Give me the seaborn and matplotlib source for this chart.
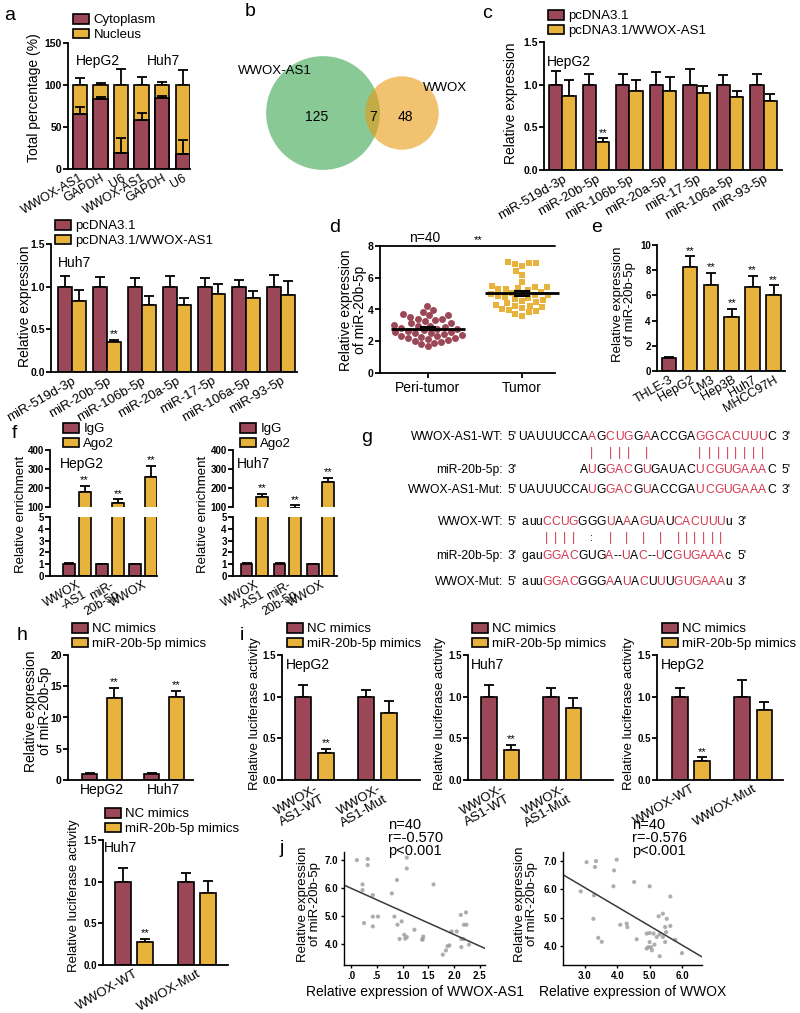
import numpy as np
import pandas as pd
import matplotlib
matplotlib.use("Agg")
import matplotlib.pyplot as plt
from matplotlib.patches import Circle
from matplotlib.font_manager import FontProperties
import seaborn as sns

sns.set_style("ticks")
plt.rcParams['font.family'] = ['Liberation Sans', 'DejaVu Sans']
plt.rcParams['axes.edgecolor'] = 'black'
plt.rcParams['axes.linewidth'] = 1.3
plt.rcParams['xtick.color'] = 'black'
plt.rcParams['ytick.color'] = 'black'
plt.rcParams['text.color'] = 'black'
plt.rcParams['axes.labelcolor'] = 'black'

MAROON = '#9b4757'
YELLOW = '#e8b33c'
RED = '#d4384f'

# ---------------- data ----------------
# a: subcellular fractionation
frac_keys = ['HepG2 WWOX-AS1', 'HepG2 GAPDH', 'HepG2 U6', 'Huh7 WWOX-AS1', 'Huh7 GAPDH', 'Huh7 U6']
frac_ticks = ['WWOX-AS1', 'GAPDH', 'U6', 'WWOX-AS1', 'GAPDH', 'U6']
cyto_pct = [66, 83, 19, 58, 84, 18]
cyto_err = [8, 3, 18, 9, 3, 17]
nuc_pct = [34, 17, 81, 42, 16, 82]
nuc_err = [8, 2, 19, 9, 3, 18]

# b: venn (only WWOX-AS1, shared, only WWOX)
venn_names = ['WWOX-AS1', 'WWOX']
venn_counts = [125, 7, 48]

# c: candidate miRNAs
mirs = ['miR-519d-3p', 'miR-20b-5p', 'miR-106b-5p', 'miR-20a-5p', 'miR-17-5p', 'miR-106a-5p', 'miR-93-5p']
oe_names = ['pcDNA3.1', 'pcDNA3.1/WWOX-AS1']
hep_ctrl = [1.0, 1.0, 1.0, 1.0, 1.0, 1.0, 1.0]
hep_ctrl_err = [0.16, 0.12, 0.12, 0.15, 0.18, 0.11, 0.12]
hep_oe = [0.87, 0.33, 0.92, 0.93, 0.90, 0.86, 0.81]
hep_oe_err = [0.19, 0.04, 0.14, 0.16, 0.08, 0.07, 0.08]
huh_ctrl = [1.0, 1.0, 1.0, 1.0, 1.0, 1.0, 1.0]
huh_ctrl_err = [0.12, 0.11, 0.10, 0.13, 0.10, 0.08, 0.14]
huh_oe = [0.83, 0.35, 0.78, 0.79, 0.91, 0.87, 0.90]
huh_oe_err = [0.13, 0.03, 0.11, 0.08, 0.12, 0.08, 0.17]

# d: tissue expression (n=40 each)
tissue_groups = ['Peri-tumor', 'Tumor']
peri_expr = [4.23, 3.98, 3.86, 3.72, 3.66, 3.63, 3.55, 3.41, 3.38, 3.31, 3.27, 3.15, 3.12, 3.04,
             2.98, 2.93, 2.87, 2.84, 2.79, 2.76, 2.72, 2.66, 2.61, 2.58, 2.53, 2.49, 2.44, 2.41,
             2.36, 2.31, 2.27, 2.22, 2.18, 2.13, 2.09, 2.02, 1.96, 1.91, 1.83, 1.68]
tumor_expr = [7.02, 6.95, 6.91, 6.86, 6.72, 6.40, 6.20, 5.75, 5.40, 5.30, 5.00, 4.90, 5.51, 5.43,
              5.35, 5.28, 5.20, 5.12, 5.05, 4.98, 4.92, 4.86, 4.80, 4.73, 4.66, 4.60, 4.52, 4.45,
              4.38, 4.31, 4.25, 4.20, 4.14, 4.08, 4.02, 3.96, 3.90, 3.82, 3.71, 3.62]

# e: cell lines
cell_lines = ['THLE-3', 'HepG2', 'LM3', 'Hep3B', 'Huh7', 'MHCC97H']
cell_expr = [1.0, 8.25, 6.85, 4.3, 6.7, 6.05]
cell_err = [0.1, 0.85, 0.95, 0.6, 0.85, 0.75]

# f: RIP
rip_targets = ['WWOX\n-AS1', 'miR-\n20b-5p', 'WWOX']
rip_names = ['IgG', 'Ago2']
hep_igg = [1.0, 1.0, 1.0]
hep_igg_err = [0.06, 0.05, 0.05]
hep_ago = [180, 122, 260]
hep_ago_err = [30, 18, 55]
huh_igg = [1.0, 1.0, 1.0]
huh_igg_err = [0.06, 0.12, 0.04]
huh_ago = [152, 95, 232]
huh_ago_err = [18, 13, 22]

# g: binding sequences
as1_wt = "UAUUUCCAAGCUGGAACCGAGGCACUUUC"
as1_mir = "AUGGACGUGAUACUCGUGAAAC"
as1_mir_start = 7
as1_mut = "UAUUUCCAUGGACGUACCGAUCGUGAAAC"
as1_pairs = [8, 10, 11, 12, 14, 20, 21, 22, 23, 24, 25, 26, 27]
wwox_wt = "auuCCUGGGGUAAAGUAUCACUUUu"
wwox_mir = "gauGGACGUGA--UAC--UCGUGAAAc"
wwox_mut = "auuGGACGGGAAUACUUUGUGAAAu"
wwox_pairs = [3, 4, 5, 6, 10, 12, 14, 16, 18, 19, 20, 21, 22, 23]
wwox_wobble = [8]
wwox_mir_red = [3, 4, 5, 6, 10, 13, 15, 18, 20, 21, 22, 23, 24, 25]

# h: mimics
mimic_names = ['NC mimics', 'miR-20b-5p mimics']
h_cells = ['HepG2', 'Huh7']
h_nc = [1.0, 1.0]
h_nc_err = [0.05, 0.05]
h_mim = [13.1, 13.2]
h_mim_err = [1.6, 1.0]

# i: luciferase
as1_reporters = ['WWOX-\nAS1-WT', 'WWOX-\nAS1-Mut']
wwox_reporters = ['WWOX-WT', 'WWOX-Mut']
luc_nc = [1.0, 1.0]
i1_nc_err, i1_mim, i1_mim_err = [0.14, 0.08], [0.32, 0.80], [0.05, 0.15]
i2_nc_err, i2_mim, i2_mim_err = [0.14, 0.10], [0.36, 0.86], [0.06, 0.12]
i3_nc_err, i3_mim, i3_mim_err = [0.10, 0.20], [0.23, 0.84], [0.04, 0.10]
i4_nc_err, i4_mim, i4_mim_err = [0.17, 0.10], [0.28, 0.87], [0.03, 0.14]

# j: correlations
as1_x = [0.11, 0.32, 0.32, 0.22, 0.22, 0.42, 0.25, 0.42, 0.42, 0.52, 0.79, 0.89, 0.84, 0.90,
         0.98, 0.94, 1.08, 1.08, 1.03, 1.08, 1.05, 1.23, 1.39, 1.40, 1.60, 1.95, 2.05, 1.78,
         1.84, 1.87, 1.91, 2.13, 2.23, 2.14, 2.18, 2.19, 2.24, 2.29, 2.14, 1.38]
as1_y = [7.00, 7.04, 6.82, 6.13, 5.93, 5.75, 4.75, 4.98, 4.63, 4.98, 5.81, 6.29, 4.98, 4.69,
         4.81, 4.18, 7.09, 6.70, 4.33, 4.25, 4.19, 4.51, 4.18, 4.27, 6.13, 4.45, 4.45, 3.62,
         3.77, 3.92, 3.95, 5.04, 5.13, 3.89, 4.18, 4.69, 4.69, 3.98, 4.18, 4.15]
wwox_x = [2.87, 3.05, 3.34, 3.31, 3.28, 3.26, 3.41, 3.52, 3.98, 3.90, 3.88, 4.09, 4.29, 4.31,
          4.52, 4.60, 5.00, 5.00, 4.91, 5.12, 5.00, 4.96, 5.04, 5.07, 4.91, 5.28, 5.41, 5.31,
          5.31, 5.53, 5.48, 5.51, 5.48, 5.64, 5.64, 5.79, 6.00, 5.41, 5.22, 5.15]
wwox_y = [5.93, 6.96, 7.00, 6.79, 5.79, 4.96, 4.29, 4.15, 7.05, 6.67, 6.11, 4.75, 4.79, 4.67,
          6.26, 4.24, 6.11, 4.46, 4.44, 4.44, 4.14, 3.96, 3.96, 3.85, 3.91, 5.05, 5.14, 4.41,
          3.64, 4.96, 4.67, 4.49, 4.14, 4.71, 5.75, 4.22, 3.75, 4.32, 4.32, 4.05]

# ---------------- helpers ----------------
W, H = 800, 1013
fig = plt.figure(figsize=(8, 10.13), dpi=100)


def px_ax(l, t, r, b):
    return fig.add_axes([l / W, 1 - b / H, (r - l) / W, (b - t) / H])


def ftext(x, y, s, **kw):
    return fig.text(x / W, 1 - y / H, s, **kw)


def style(ax, ylim, yticks, ylabels=None, xlim=None, ysize=7.5):
    sns.despine(ax=ax)
    ax.set_ylim(*ylim)
    ax.set_yticks(yticks)
    if ylabels is not None:
        ax.set_yticklabels(ylabels)
    if xlim is not None:
        ax.set_xlim(*xlim)
    ax.tick_params(axis='y', labelsize=ysize, length=3.5, width=1.3, pad=1)
    for lab in ax.get_yticklabels():
        lab.set_fontweight('bold')
    ax.tick_params(axis='x', length=0, labelsize=9.5, pad=2)
    ax.set_xlabel('')
    ax.set_ylabel('')


def xlabels(ax, labels, rot=30, size=9.5):
    ax.set_xticks(range(len(labels)))
    if rot:
        ax.set_xticklabels(labels, rotation=rot, ha='right', rotation_mode='anchor',
                           fontsize=size, linespacing=0.95)
    else:
        ax.set_xticklabels(labels, fontsize=size)


def ylab(ax, text, x, y, size=10):
    ax.set_ylabel(text, fontsize=size, va='center', ha='center', linespacing=1.0)
    bb = ax.get_position()
    ax.yaxis.set_label_coords((x / W - bb.x0) / bb.width, ((1 - y / H) - bb.y0) / bb.height)


def legend(ax, handles, labels, x, y):
    ax.legend(handles=handles, labels=labels, loc='upper left',
              bbox_to_anchor=(x / W, 1 - y / H), bbox_transform=fig.transFigure,
              frameon=False, fontsize=9.5, handlelength=1.25, handleheight=0.75,
              handletextpad=0.3, labelspacing=0.18, borderpad=0, borderaxespad=0)


def grouped(ax, cats, series, errs, names, width, gap):
    df = pd.DataFrame({'cat': list(cats) * len(series),
                       'grp': [nm for nm in names for _ in cats],
                       'val': [v for s in series for v in s]})
    sns.barplot(data=df, x='cat', y='val', hue='grp', order=list(cats), hue_order=list(names),
                palette=[MAROON, YELLOW], saturation=1, width=width, gap=gap,
                edgecolor='black', linewidth=1.2, errorbar=None, legend=False, ax=ax)
    bars = list(ax.containers)
    tops = []
    for cont, vals, err in zip(bars, series, errs):
        xs = [p.get_x() + p.get_width() / 2 for p in cont]
        ax.errorbar(xs, vals, yerr=[np.zeros(len(vals)), err], fmt='none', ecolor='black',
                    elinewidth=1.3, capsize=3.5, capthick=1.3, zorder=0.5)
        tops.append((xs, np.add(vals, err)))
    return bars, tops


def stars(ax, tops, which):
    for g, i in which:
        xs, ts = tops[g]
        ax.annotate('**', (xs[i], ts[i]), xytext=(0, 0.5), textcoords='offset points',
                    ha='center', va='bottom', fontsize=8, annotation_clip=False)


# ---------------- a ----------------
ax = px_ax(68, 43, 190, 169)
a_df = pd.DataFrame({'key': frac_keys, 'cyto': cyto_pct, 'nuc': nuc_pct})
a_df['total'] = a_df['cyto'] + a_df['nuc']
sns.barplot(data=a_df, x='key', y='total', color=YELLOW, saturation=1, width=0.7,
            edgecolor='black', linewidth=1.2, errorbar=None, ax=ax)
sns.barplot(data=a_df, x='key', y='cyto', color=MAROON, saturation=1, width=0.7,
            edgecolor='black', linewidth=1.2, errorbar=None, ax=ax)
a_bars = list(ax.containers)
ax.errorbar(range(6), a_df['total'], yerr=[np.zeros(6), nuc_err], fmt='none', ecolor='black',
            elinewidth=1.3, capsize=3.5, capthick=1.3, zorder=0.5)
ax.errorbar(range(6), a_df['cyto'], yerr=[np.zeros(6), cyto_err], fmt='none', ecolor='black',
            elinewidth=1.3, capsize=3.5, capthick=1.3, zorder=2.5)
style(ax, (0, 150), [0, 50, 100, 150], xlim=(-0.58, 5.35))
xlabels(ax, frac_ticks, size=9)
ylab(ax, 'Total percentage (%)', 34, 98)
legend(ax, [a_bars[1], a_bars[0]], ['Cytoplasm', 'Nucleus'], 73, 14)
ftext(98, 61, 'HepG2', ha='center', va='center', fontsize=10)
ftext(163, 61, 'Huh7', ha='center', va='center', fontsize=10)

# ---------------- b ----------------
axb = px_ax(230, 40, 460, 190)
axb.set_xlim(230, 460)
axb.set_ylim(190, 40)
axb.axis('off')
r_as1 = 4.95 * np.sqrt(venn_counts[0] + venn_counts[1])
r_ww = 4.95 * np.sqrt(venn_counts[2] + venn_counts[1])
axb.add_patch(Circle((323, 113), r_as1, facecolor='#88c995', lw=0))
axb.add_patch(Circle((402, 113), r_ww, facecolor='#e89a10', alpha=0.6, lw=0))
axb.text(317, 117, str(venn_counts[0]), ha='center', va='center', fontsize=10)
axb.text(373, 117, str(venn_counts[1]), ha='center', va='center', fontsize=10)
axb.text(405, 117, str(venn_counts[2]), ha='center', va='center', fontsize=10)
axb.text(275, 71, venn_names[0], ha='center', va='center', fontsize=9.5)
axb.text(445, 88, venn_names[1], ha='center', va='center', fontsize=9.5)

# ---------------- c (HepG2) ----------------
ax = px_ax(544, 42, 782, 170)
bars, tops = grouped(ax, mirs, [hep_ctrl, hep_oe], [hep_ctrl_err, hep_oe_err], oe_names, 0.8, 0)
stars(ax, tops, [(1, 1)])
style(ax, (0, 1.5), [0, 0.5, 1.0, 1.5], ['0.0', '0.5', '1.0', '1.5'], xlim=(-0.55, 6.55))
xlabels(ax, mirs)
ylab(ax, 'Relative expression', 511, 103)
legend(ax, bars, oe_names, 548, 10)
ftext(547, 62, 'HepG2', ha='left', va='center', fontsize=10)

# ---------------- c (Huh7) ----------------
ax = px_ax(51, 244, 297, 372)
bars, tops = grouped(ax, mirs, [huh_ctrl, huh_oe], [huh_ctrl_err, huh_oe_err], oe_names, 0.8, 0)
stars(ax, tops, [(1, 1)])
style(ax, (0, 1.5), [0, 0.5, 1.0, 1.5], ['0.0', '0.5', '1.0', '1.5'], xlim=(-0.6, 6.45))
xlabels(ax, mirs)
ylab(ax, 'Relative expression', 25, 306)
legend(ax, bars, oe_names, 55, 220)
ftext(58, 263, 'Huh7', ha='left', va='center', fontsize=10)

# ---------------- d ----------------
ax = px_ax(380, 246, 555, 373)
d_df = pd.DataFrame({'grp': [tissue_groups[0]] * len(peri_expr) + [tissue_groups[1]] * len(tumor_expr),
                     'val': peri_expr + tumor_expr})
sns.swarmplot(data=d_df[d_df.grp == tissue_groups[0]], x='grp', y='val', order=tissue_groups,
              color=MAROON, marker='o', size=5, ax=ax)
sns.swarmplot(data=d_df[d_df.grp == tissue_groups[1]], x='grp', y='val', order=tissue_groups,
              color=YELLOW, marker='s', size=5, ax=ax)
for i, g in enumerate(tissue_groups):
    v = d_df.loc[d_df.grp == g, 'val']
    m, se = v.mean(), v.std() / np.sqrt(len(v))
    ax.hlines(m, i - 0.39, i + 0.39, color='black', lw=2, zorder=5, clip_on=False)
    ax.errorbar(i, m, yerr=se, fmt='none', ecolor='black', elinewidth=1.5, capsize=6,
                capthick=1.5, zorder=5)
style(ax, (0, 8), [0, 2, 4, 6, 8], xlim=(-0.51, 1.35))
ax.tick_params(axis='x', length=3.5, width=1.3, labelsize=10)
ax.axhline(8, color='black', lw=1.3, clip_on=False)
ylab(ax, 'Relative expression\nof miR-20b-5p', 353, 310)
ftext(425, 238, 'n=40', ha='center', va='center', fontsize=10)
ftext(478, 240, '**', ha='center', va='center', fontsize=8)

# ---------------- e ----------------
ax = px_ax(657, 245, 785, 371)
e_df = pd.DataFrame({'line': cell_lines, 'val': cell_expr})
sns.barplot(data=e_df, x='line', y='val', hue='line', palette=[MAROON] + [YELLOW] * 5,
            saturation=1, width=0.7, edgecolor='black', linewidth=1.2, errorbar=None,
            legend=False, ax=ax)
ax.errorbar(range(6), cell_expr, yerr=[np.zeros(6), cell_err], fmt='none', ecolor='black',
            elinewidth=1.3, capsize=3.5, capthick=1.3, zorder=0.5)
stars(ax, [(list(range(6)), np.add(cell_expr, cell_err))], [(0, i) for i in range(1, 6)])
style(ax, (0, 10), [0, 2, 4, 6, 8, 10], xlim=(-0.58, 5.55), ysize=7)
xlabels(ax, cell_lines, size=9)
ylab(ax, 'Relative expression\nof miR-20b-5p', 624, 304, size=9.5)

# ---------------- f ----------------
def rip_panel(l, r, igg, igg_err, ago, ago_err, xlim, cell, leg_x, lab_x):
    top = px_ax(l, 450, r, 507)
    bot = px_ax(l, 517, r, 576)
    for a_ in (top, bot):
        bars, tops = grouped(a_, rip_targets, [igg, ago], [igg_err, ago_err], rip_names, 0.96, 0.25)
    stars(top, tops, [(1, 0), (1, 1), (1, 2)])
    style(top, (100, 400), [100, 200, 300, 400], xlim=xlim, ysize=7)
    top.spines['bottom'].set_visible(False)
    top.set_xticks([])
    style(bot, (0, 5), [0, 1, 2, 3, 4, 5], xlim=xlim, ysize=7)
    xlabels(bot, rip_targets, size=8.8)
    bot.set_ylabel('Relative enrichment', fontsize=9.5, va='center', ha='center')
    bb = bot.get_position()
    bot.yaxis.set_label_coords((lab_x / W - bb.x0) / bb.width,
                               ((1 - 514 / H) - bb.y0) / bb.height)
    legend(top, bars, rip_names, leg_x, 423)
    ftext(leg_x - 3, 464, cell, ha='left', va='center', fontsize=10)


rip_panel(50, 157, hep_igg, hep_igg_err, hep_ago, hep_ago_err, (-0.8, 2.42), 'HepG2', 63, 21)
rip_panel(233, 337, huh_igg, huh_igg_err, huh_ago, huh_ago_err, (-0.65, 2.5), 'Huh7', 240, 203)

# ---------------- g ----------------
seq_prop = FontProperties(family='Liberation Sans', size=8.7)
renderer = fig.canvas.get_renderer()


def layout(seq, x0, track=0.0):
    xs, x = [], x0
    for c in seq:
        w = renderer.get_text_width_height_descent(c, seq_prop, ismath=False)[0]
        xs.append(x + w / 2)
        x += w + track
    return xs, x - track


def put_row(xs, seq, reds, y, offset=0):
    for i, (x, c) in enumerate(zip(xs, seq)):
        ftext(x, y, c, ha='center', va='center', fontproperties=seq_prop,
              color=RED if (i + offset) in reds else 'black')


def row_label(y, name, p5, end_x, p3):
    ftext(503, y, name, ha='right', va='center', fontproperties=seq_prop)
    ftext(512, y, p5, ha='center', va='center', fontproperties=seq_prop)
    ftext(end_x + 10, y, p3, ha='center', va='center', fontproperties=seq_prop)


xs_as1, end_as1 = layout(as1_wt, 518, 0.2)
put_row(xs_as1, as1_wt, as1_pairs, 437)
put_row(xs_as1[as1_mir_start:], as1_mir, as1_pairs, 470, offset=as1_mir_start)
put_row(xs_as1, as1_mut, as1_pairs, 490)
for c in as1_pairs:
    ftext(xs_as1[c], 453, '|', ha='center', va='center', color=RED, fontsize=9)
row_label(437, 'WWOX-AS1-WT:', "5'", end_as1, "3'")
row_label(470, 'miR-20b-5p:', "3'", end_as1, "5'")
row_label(490, 'WWOX-AS1-Mut:', "5'", end_as1, "3'")

xs_ww, end_ww = layout(wwox_wt, 522)
put_row(xs_ww, wwox_wt, wwox_pairs, 522)
for c in wwox_pairs:
    ftext(xs_ww[c], 538, '|', ha='center', va='center', color=RED, fontsize=9)
for c in wwox_wobble:
    ftext(xs_ww[c], 538, ':', ha='center', va='center', color='black', fontsize=8)
xs_wm, end_wm = layout(wwox_mir, 522)
put_row(xs_wm, wwox_mir, wwox_mir_red, 556)
xs_wu, end_wu = layout(wwox_mut, 522)
put_row(xs_wu, wwox_mut, wwox_pairs, 582)
row_label(522, 'WWOX-WT:', "5'", end_ww, "3'")
row_label(556, 'miR-20b-5p:', "3'", end_ww, "5'")
row_label(582, 'WWOX-Mut:', "5'", end_ww, "3'")

# ---------------- h ----------------
ax = px_ax(68, 655, 193, 780)
bars, tops = grouped(ax, h_cells, [h_nc, h_mim], [h_nc_err, h_mim_err], mimic_names, 0.8, 0.375)
stars(ax, tops, [(1, 0), (1, 1)])
style(ax, (0, 20), [0, 5, 10, 15, 20], xlim=(-0.55, 1.47))
xlabels(ax, h_cells, rot=0, size=10)
ylab(ax, 'Relative expression\nof miR-20b-5p', 38, 711)
legend(ax, bars, mimic_names, 72, 623)

# ---------------- i ----------------
def luc_panel(rect, reps, nc_err, mim, mim_err, xlim, cell, leg, lab_x, lab_y, cell_y):
    ax_ = px_ax(*rect)
    bars, tops = grouped(ax_, reps, [luc_nc, mim], [nc_err, mim_err], mimic_names, 0.72, 0.3)
    stars(ax_, tops, [(1, 0)])
    style(ax_, (0, 1.5), [0, 0.5, 1.0, 1.5], ['0.0', '0.5', '1.0', '1.5'], xlim=xlim, ysize=7)
    xlabels(ax_, reps, size=9.5)
    ylab(ax_, 'Relative luciferase activity', lab_x, lab_y, size=9.5)
    legend(ax_, bars, mimic_names, leg[0], leg[1])
    ftext(leg[0] - 1, cell_y, cell, ha='left', va='center', fontsize=10)


luc_panel((282, 655, 420, 780), as1_reporters, i1_nc_err, i1_mim, i1_mim_err, (-0.52, 1.67),
          'HepG2', (287, 623), 255, 714, 665)
luc_panel((468, 655, 613, 780), as1_reporters, i2_nc_err, i2_mim, i2_mim_err, (-0.52, 1.82),
          'Huh7', (472, 623), 440, 714, 665)
luc_panel((657, 655, 783, 780), wwox_reporters, i3_nc_err, i3_mim, i3_mim_err, (-0.55, 1.48),
          'HepG2', (662, 623), 629, 714, 665)
luc_panel((103, 840, 228, 965), wwox_reporters, i4_nc_err, i4_mim, i4_mim_err, (-0.49, 1.49),
          'Huh7', (105, 808), 74, 896, 848)

# ---------------- j ----------------
def corr_panel(rect, xs, ys, xlim, ylim, xticks, xticklabels, xlabel, lab_x, stat_x, stat):
    ax_ = px_ax(*rect)
    ax_.set_xlim(*xlim)
    ax_.set_ylim(*ylim)
    sns.regplot(x=np.array(xs), y=np.array(ys), ax=ax_, ci=None, truncate=False,
                scatter_kws={'s': 9, 'color': '#9a9a9a', 'edgecolor': 'none'},
                line_kws={'color': '#3a3a3a', 'lw': 1.1})
    ax_.set_xlim(*xlim)
    ax_.set_ylim(*ylim)
    sns.despine(ax=ax_)
    for s in ('left', 'bottom'):
        ax_.spines[s].set_linewidth(1.0)
    ax_.set_yticks([4, 5, 6, 7])
    ax_.set_yticklabels(['4.0', '5.0', '6.0', '7.0'])
    ax_.set_xticks(xticks)
    ax_.set_xticklabels(xticklabels)
    ax_.tick_params(labelsize=7, length=2.5, width=1.0, pad=1.5)
    for lab in ax_.get_xticklabels() + ax_.get_yticklabels():
        lab.set_fontweight('bold')
    ax_.set_xlabel(xlabel, fontsize=10, labelpad=3)
    ylab(ax_, 'Relative expression\nof miR-20b-5p', lab_x, 904, size=9.5)
    ftext(stat_x, 838, stat, ha='left', va='center', fontsize=10.5, linespacing=0.9)


corr_panel((344, 852, 485, 965), as1_x, as1_y, (-0.14, 2.6), (3.25, 7.29),
           [0, 0.5, 1.0, 1.5, 2.0, 2.5], ['.0', '.5', '1.0', '1.5', '2.0', '2.5'],
           'Relative expression of WWOX-AS1', 309, 388, 'n=40\nr=-0.570\np<0.001')
corr_panel((563, 852, 702, 965), wwox_x, wwox_y, (2.32, 6.62), (3.33, 7.32),
           [3, 4, 5, 6], ['3.0', '4.0', '5.0', '6.0'],
           'Relative expression of WWOX', 526, 632, 'n=40\nr=-0.576\np<0.001')

# ---------------- panel letters ----------------
for letter, x, y in [('a', 10, 15), ('b', 250, 12), ('c', 487, 14), ('d', 335, 227),
                     ('e', 597, 228), ('f', 14, 433), ('g', 367, 437), ('h', 22, 635),
                     ('i', 242, 635), ('j', 282, 848)]:
    ftext(x, y, letter, ha='center', va='center', fontsize=14)

fig.savefig('out.png', dpi=100, facecolor='white')
